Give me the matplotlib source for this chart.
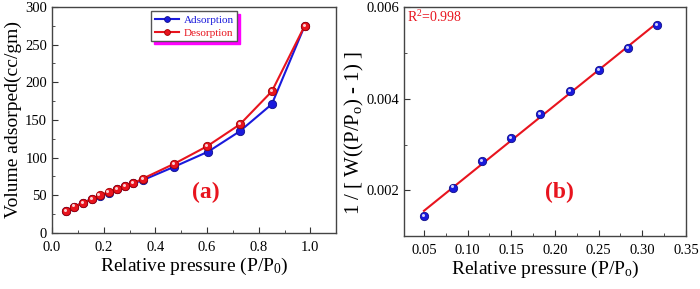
import matplotlib
matplotlib.use('Agg')
import matplotlib.pyplot as plt
import numpy as np
from matplotlib.ticker import MultipleLocator, FormatStrFormatter
from matplotlib.transforms import ScaledTranslation

plt.rcParams['font.family'] = ['Liberation Serif', 'DejaVu Serif']
plt.rcParams['mathtext.fontset'] = 'custom'
plt.rcParams['mathtext.rm'] = 'Liberation Serif'
plt.rcParams['mathtext.it'] = 'Liberation Serif:italic'

# (a) isotherm
p_ads = [0.054, 0.086, 0.12, 0.154, 0.184, 0.219, 0.251, 0.283, 0.315, 0.351, 0.474, 0.605, 0.727, 0.851, 0.978]
v_ads = [29, 35, 40, 45, 49, 53, 58, 62, 66, 70, 88, 108, 135, 171, 275]
p_des = [0.054, 0.086, 0.12, 0.154, 0.184, 0.219, 0.251, 0.283, 0.315, 0.351, 0.474, 0.600, 0.727, 0.851, 0.978]
v_des = [29, 35, 40, 45, 50, 54, 58, 62, 66, 72, 92, 115, 144, 188, 275]

# (b) BET plot
p_bet = [0.05, 0.083, 0.116, 0.15, 0.183, 0.217, 0.25, 0.284, 0.317]
y_bet = [0.00143, 0.00206, 0.00263, 0.00315, 0.00366, 0.00416, 0.00463, 0.00510, 0.00561]

fig = plt.figure(figsize=(7, 2.89), dpi=100)
ax1 = fig.add_axes([0.0743, 0.194, 0.406, 0.782])
ax2 = fig.add_axes([0.577, 0.183, 0.403, 0.792])

blue = '#1a1adc'
red = '#e8141e'

def shine(ax, x, y):
    # small white highlight to mimic the shaded sphere markers
    off = ax.transData + ScaledTranslation(-0.8 / 72, 0.8 / 72, fig.dpi_scale_trans)
    ax.plot(x, y, 'o', ms=2.2, mfc='white', mec='none', alpha=0.8, transform=off, zorder=5)

ax1.plot(p_ads, v_ads, '-o', color=blue, lw=1.5, ms=6, mfc=blue, mec='#10108a', mew=0.6, label='Adsorption')
ax1.plot(p_des, v_des, '-o', color=red, lw=1.5, ms=6, mfc=red, mec='#a00000', mew=0.6, label='Desorption')
shine(ax1, p_des, v_des)
ax1.set_xlim(0, 1.1)
ax1.set_ylim(0, 300)
ax1.xaxis.set_major_locator(MultipleLocator(0.2))
ax1.xaxis.set_minor_locator(MultipleLocator(0.1))
ax1.xaxis.set_major_formatter(FormatStrFormatter('%.1f'))
ax1.yaxis.set_major_locator(MultipleLocator(50))
ax1.yaxis.set_minor_locator(MultipleLocator(25))
ax1.set_xlabel('Relative pressure (P/P$_0$)', fontsize=14, labelpad=1)
ax1.set_ylabel('Volume adsorped(cc/gm)', fontsize=14, labelpad=2)
leg = ax1.legend(loc='upper center', bbox_to_anchor=(0.5, 0.99), borderaxespad=0.2, fontsize=8, frameon=True,
                 fancybox=False, edgecolor='#555555', handlelength=2.2, markerscale=0.7, borderpad=0.3,
                 labelspacing=0.3, handletextpad=0.4, shadow={'color': '#ff00ff', 'alpha': 1.0})
for t, c in zip(leg.get_texts(), [blue, red]):
    t.set_color(c)
ax1.text(0.54, 0.18, '(a)', transform=ax1.transAxes, color=red, fontsize=17, fontweight='bold', ha='center', va='center')

k, b = np.polyfit(p_bet, y_bet, 1)
xf = np.array([p_bet[0], p_bet[-1]])
ax2.plot(xf, k * xf + b, color=red, lw=1.5)
ax2.plot(p_bet, y_bet, 'o', ms=6, mfc=blue, mec='#10108a', mew=0.6)
shine(ax2, p_bet, y_bet)
ax2.set_xlim(0.027, 0.35)
ax2.set_ylim(0.001, 0.006)
ax2.xaxis.set_major_locator(MultipleLocator(0.05))
ax2.xaxis.set_minor_locator(MultipleLocator(0.025))
ax2.yaxis.set_major_locator(MultipleLocator(0.002))
ax2.yaxis.set_minor_locator(MultipleLocator(0.001))
ax2.xaxis.set_major_formatter(FormatStrFormatter('%.2f'))
ax2.yaxis.set_major_formatter(FormatStrFormatter('%.3f'))
ax2.set_xlabel('Relative pressure (P/P$_\\mathrm{o}$)', fontsize=14, labelpad=1)
ax2.set_ylabel('1 / [ W((P/P$_\\mathrm{o}$) - 1) ]', fontsize=15, labelpad=6)
ax2.yaxis.set_label_coords(-0.133, 0.45)
ax2.text(0.01, 0.955, 'R$^2$=0.998', transform=ax2.transAxes, color=red, fontsize=10, ha='left', va='center')
ax2.text(0.55, 0.19, '(b)', transform=ax2.transAxes, color=red, fontsize=17, fontweight='bold', ha='center', va='center')

for ax in (ax1, ax2):
    ax.tick_params(which='both', direction='in', labelsize=10.5, color='#333333')
    ax.tick_params(which='major', length=4)
    ax.tick_params(which='minor', length=2)
    ax.tick_params(axis='x', which='major', pad=6)
    for s in ax.spines.values():
        s.set_color('#444444')
        s.set_linewidth(1.0)

fig.savefig('out.png', dpi=100)
